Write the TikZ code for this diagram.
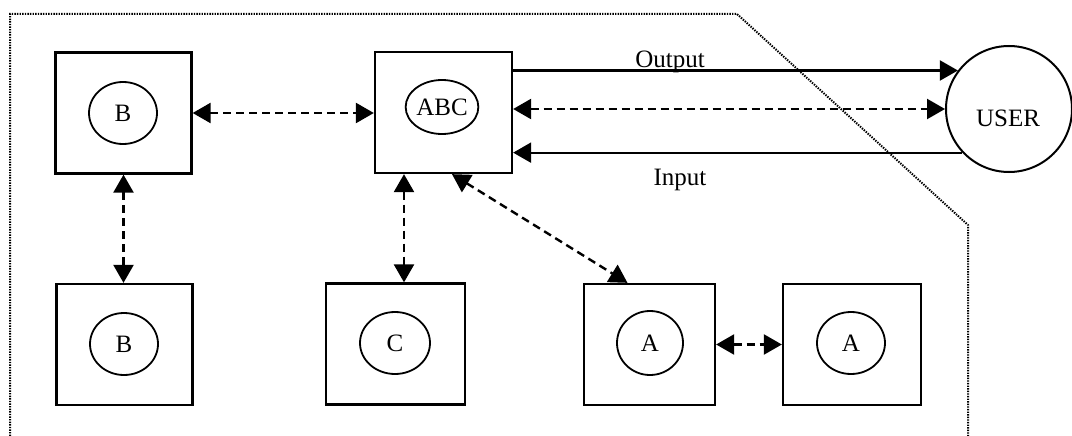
\documentclass[tikz,border=0pt]{standalone}
\usepackage{fontspec}
\setmainfont{Liberation Serif}
\usetikzlibrary{arrows.meta,shapes.geometric}
\begin{document}
\begin{tikzpicture}[x=1pt,y=-1pt,
  box/.style={draw,line width=2.3pt,minimum width=136pt,minimum height=121pt,inner sep=0pt},
  proc/.style={draw,ellipse,line width=1.8pt,minimum width=68pt,minimum height=62pt,inner sep=0pt,font=\fontsize{25}{30}\selectfont},
  lbl/.style={font=\fontsize{25}{30}\selectfont,inner sep=0pt},
  tip/.style={-{Triangle[length=18pt,width=20pt]}},
  both/.style={{Triangle[length=18pt,width=20pt]}-{Triangle[length=18pt,width=20pt]}},
  link/.style={dash pattern=on 8pt off 5pt,line width=2.4pt},
  flow/.style={line width=2.2pt},
  frame/.style={line width=2pt,dash pattern=on 1.4pt off 1.2pt}
]
\useasboundingbox (0,0) rectangle (1072,436);

% system boundary
\draw[frame] (10,436) -- (10,14) -- (737,14) -- (968,225) -- (968,436);

% components
\node[box] (b1) at (123.5,113) {};
\node[proc] (b1c) at (123,113) {B};
\node[box,minimum width=137pt] (abc) at (443.5,112.5) {};
\node[proc,minimum width=72pt,minimum height=54pt] (abcc) at (442,107) {ABC};
\node[box] (b2) at (124.5,344.5) {};
\node[proc] (b2c) at (124,344) {B};
\node[box,minimum width=139pt] (c) at (395.5,344) {};
\node[proc,minimum width=70pt] (cc) at (395,343) {C};
\node[box,minimum width=131pt] (a1) at (649.5,344.5) {};
\node[proc,minimum width=66pt,minimum height=64pt] (a1c) at (650,343) {A};
\node[box,minimum width=138pt] (a2) at (852,344.5) {};
\node[proc] (a2c) at (851,343) {A};

% external user
\node[circle,draw,line width=2pt,minimum size=126pt,inner sep=0pt] (user) at (1009,109) {};
\node[lbl] (usertxt) at (1008,118.5) {USER};

% internal links
\draw[link,both] (b1.east) -- (b1.east -| abc.west);
\draw[link,both] (b1.south) -- (b1.south |- b2.north);
\draw[link,both] ([xshift=-39.5pt]abc.south) -- ([xshift=-39.5pt]abc.south |- c.north);
\draw[link,both] ([xshift=8.5pt]abc.south) -- ([xshift=-22pt]a1.north);
\draw[link,both] (a1.east) -- (a2.west);

% user interface
\draw[flow,tip] (abc.east |- user.143) -- (user.143);
\draw[link,both] (abc.east |- user.west) -- (user.west);
\draw[flow,tip] (user.223) -- (abc.east |- user.223);
\node[lbl,anchor=base] (out) at (670,68) {Output};
\node[lbl,anchor=base] (in) at (680,185) {Input};
\end{tikzpicture}
\end{document}
